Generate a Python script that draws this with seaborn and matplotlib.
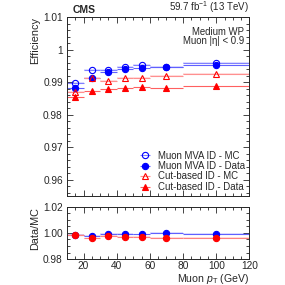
import numpy as np
import matplotlib
matplotlib.use("Agg")
import matplotlib.pyplot as plt
import seaborn as sns
from matplotlib.ticker import MultipleLocator, FormatStrFormatter, FuncFormatter

bin_lo = [10, 20, 30, 40, 50, 60, 80]
bin_hi = [20, 30, 40, 50, 60, 80, 120]
pt = [15, 25, 35, 45, 55, 70, 100]

mva_mc = [0.9897, 0.9936, 0.9937, 0.9947, 0.9954, 0.9945, 0.9959]
mva_data = [0.9882, 0.9914, 0.9932, 0.9941, 0.9942, 0.9945, 0.9954]
cut_mc = [0.9870, 0.9914, 0.9902, 0.9912, 0.9914, 0.9920, 0.9925]
cut_data = [0.9853, 0.9872, 0.9880, 0.9882, 0.9885, 0.9882, 0.9888]
mc_unc = [0.0004, 0.0003, 0.0003, 0.0003, 0.0003, 0.0003, 0.0003]
ratio_unc = [0.0006, 0.0006, 0.0004, 0.0004, 0.0004, 0.0004, 0.0004]

sns.set_style("ticks")
plt.rcParams['font.family'] = ['Liberation Sans', 'DejaVu Sans']
plt.rcParams['mathtext.fontset'] = 'custom'
plt.rcParams['mathtext.it'] = 'Liberation Sans:italic'
plt.rcParams['mathtext.rm'] = 'Liberation Sans'

fig = plt.figure(figsize=(2.85, 2.85), dpi=100)
ax = fig.add_axes([0.235, 0.313, 0.640, 0.627])
rax = fig.add_axes([0.235, 0.091, 0.640, 0.184])

lo = np.array(bin_lo)
hi = np.array(bin_hi)
x = np.array(pt)
xerr = [x - lo, hi - x]

series = [
    ("Muon MVA ID - MC", mva_mc, "#0000ff", "o", "none", "#8080ff"),
    ("Muon MVA ID - Data", mva_data, "#0000ff", "o", "#0000ff", "#6060ff"),
    ("Cut-based ID - MC", cut_mc, "#ff0000", "^", "none", "#ff9090"),
    ("Cut-based ID - Data", cut_data, "#ff0000", "^", "#ff0000", "#ff6060"),
]

for label, vals, col, mk, fc, lc in series:
    v = np.array(vals)
    if fc == "none":
        for i in range(len(v)):
            ax.fill_between([lo[i], hi[i]], v[i] - mc_unc[i], v[i] + mc_unc[i],
                            color=col, alpha=0.12, lw=0)
    ax.errorbar(x, v, xerr=xerr, fmt=mk, color=lc, mec=col, mfc=fc,
                ms=4.5, mew=0.8, elinewidth=0.8, capsize=0, label=label)

ax.set_xlim(10, 120)
ax.set_ylim(0.955, 1.01)
ax.set_ylabel("Efficiency", fontsize=7.8, loc="top")
ax.yaxis.set_label_coords(-0.145, 1.0)
ax.yaxis.set_major_locator(MultipleLocator(0.01))
ax.yaxis.set_minor_locator(MultipleLocator(0.002))
ax.yaxis.set_major_formatter(FuncFormatter(lambda v, p: f"{v:g}"))
ax.xaxis.set_major_locator(MultipleLocator(20))
ax.xaxis.set_minor_locator(MultipleLocator(5))
ax.set_xticklabels([])

leg = ax.legend(loc="lower right", frameon=False, fontsize=6.9, handlelength=2.4,
                labelspacing=0.05, borderaxespad=0.1, borderpad=0.3,
                handletextpad=0.2)

ax.text(0.03, 1.01, "CMS", transform=ax.transAxes, fontsize=7.5,
        fontweight="bold", ha="left", va="bottom")
ax.text(1.0, 1.01, "59.7 fb$^{-1}$ (13 TeV)", transform=ax.transAxes,
        fontsize=7, ha="right", va="bottom")
ax.text(0.97, 0.918, "Medium WP", transform=ax.transAxes, fontsize=6.9,
        ha="right", va="center")
ax.text(0.97, 0.864, "Muon |\u03b7| < 0.9", transform=ax.transAxes, fontsize=6.9,
        ha="right", va="center")

# ratio panel
r_mva = np.array(mva_data) / np.array(mva_mc)
r_cut = np.array(cut_data) / np.array(cut_mc)
for r, col, lc in [(r_mva, "#0000ff", "#6060ff"), (r_cut, "#ff0000", "#ff8080")]:
    for i in range(len(r)):
        rax.fill_between([lo[i], hi[i]], r[i] - ratio_unc[i], r[i] + ratio_unc[i],
                         color=col, alpha=0.12, lw=0)
    rax.errorbar(x, r, xerr=xerr, fmt="o", color=lc, mec=col, mfc=col,
                 ms=4.5, mew=0.8, elinewidth=0.8, capsize=0)

rax.set_xlim(10, 120)
rax.set_ylim(0.98, 1.02)
rax.yaxis.set_major_locator(MultipleLocator(0.02))
rax.yaxis.set_minor_locator(MultipleLocator(0.005))
rax.yaxis.set_major_formatter(FormatStrFormatter("%.2f"))
rax.xaxis.set_major_locator(MultipleLocator(20))
rax.xaxis.set_minor_locator(MultipleLocator(5))
rax.set_ylabel("Data/MC", fontsize=7.8, loc="top")
rax.yaxis.set_label_coords(-0.145, 1.0)
rax.set_xlabel("Muon $\\mathit{p}_{\\mathrm{T}}$ (GeV)", fontsize=7.6, loc="right")
rax.xaxis.set_label_coords(1.0, -0.245)

for a in (ax, rax):
    a.tick_params(which="both", direction="in", top=True, right=True,
                  labelsize=7.3, width=0.6, pad=3)
    a.tick_params(which="major", length=4)
    a.tick_params(which="minor", length=2)
    for s in a.spines.values():
        s.set_linewidth(0.7)
rax.tick_params(axis="x", which="both", pad=1.5)

fig.savefig("out.png", dpi=100)
